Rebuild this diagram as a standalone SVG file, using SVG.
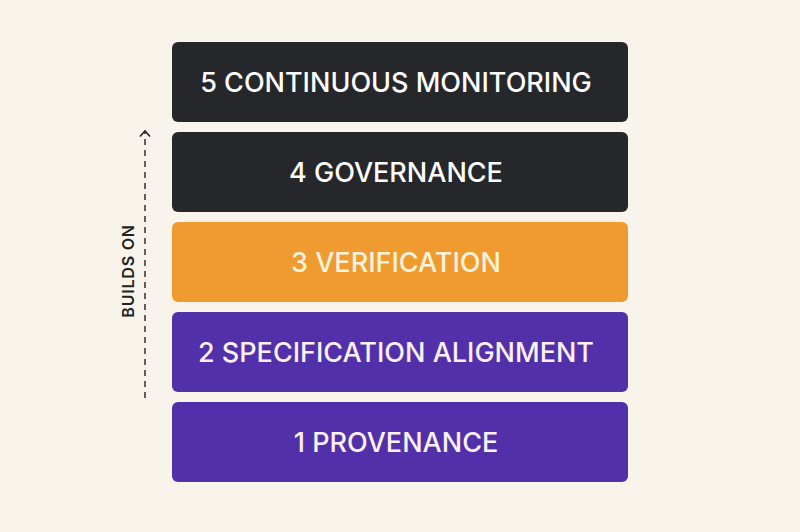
<svg xmlns="http://www.w3.org/2000/svg" width="800" height="532" viewBox="0 0 800 532">
<defs>
<style>
.bar{rx:6;ry:6}
.lbl{font-family:Inter,"Liberation Sans",sans-serif;font-size:27px;font-weight:500;text-anchor:middle;letter-spacing:0px}
.dark{fill:#26272b}
.orange{fill:#f09b2f}
.purple{fill:#5230a9}
.side{font-family:Inter,"Liberation Sans",sans-serif;font-size:16px;font-weight:600;fill:#222;text-anchor:middle;letter-spacing:0.8px}
</style>
<marker id="ah" viewBox="0 0 12 12" refX="10" refY="6" markerWidth="12" markerHeight="12" markerUnits="userSpaceOnUse" orient="auto">
<path d="M4.5 1 L10 6 L4.5 11" fill="none" stroke="#222" stroke-width="1.6"/>
</marker>
</defs>
<rect width="800" height="532" fill="#f8f4eb"/>
<g id="layer5"><rect class="bar dark" x="172" y="42" width="456" height="80"/><text class="lbl" x="396" y="92" fill="#ffffff">5 CONTINUOUS MONITORING</text></g>
<g id="layer4"><rect class="bar dark" x="172" y="132" width="456" height="80"/><text class="lbl" x="396" y="182" fill="#ffffff">4 GOVERNANCE</text></g>
<g id="layer3"><rect class="bar orange" x="172" y="222" width="456" height="80"/><text class="lbl" x="396" y="272" fill="#fdf3dc">3 VERIFICATION</text></g>
<g id="layer2"><rect class="bar purple" x="172" y="312" width="456" height="80"/><text class="lbl" x="396" y="362" fill="#fbf0f4">2 SPECIFICATION ALIGNMENT</text></g>
<g id="layer1"><rect class="bar purple" x="172" y="402" width="456" height="80"/><text class="lbl" x="396" y="452" fill="#fbf0f4">1 PROVENANCE</text></g>
<g id="connectors"><line x1="145" y1="398" x2="145" y2="131" stroke="#222" stroke-width="1.4" stroke-dasharray="6 5" marker-end="url(#ah)"/></g>
<g id="axis-label"><text class="side" transform="translate(134 271) rotate(-90)">BUILDS ON</text></g>
</svg>
